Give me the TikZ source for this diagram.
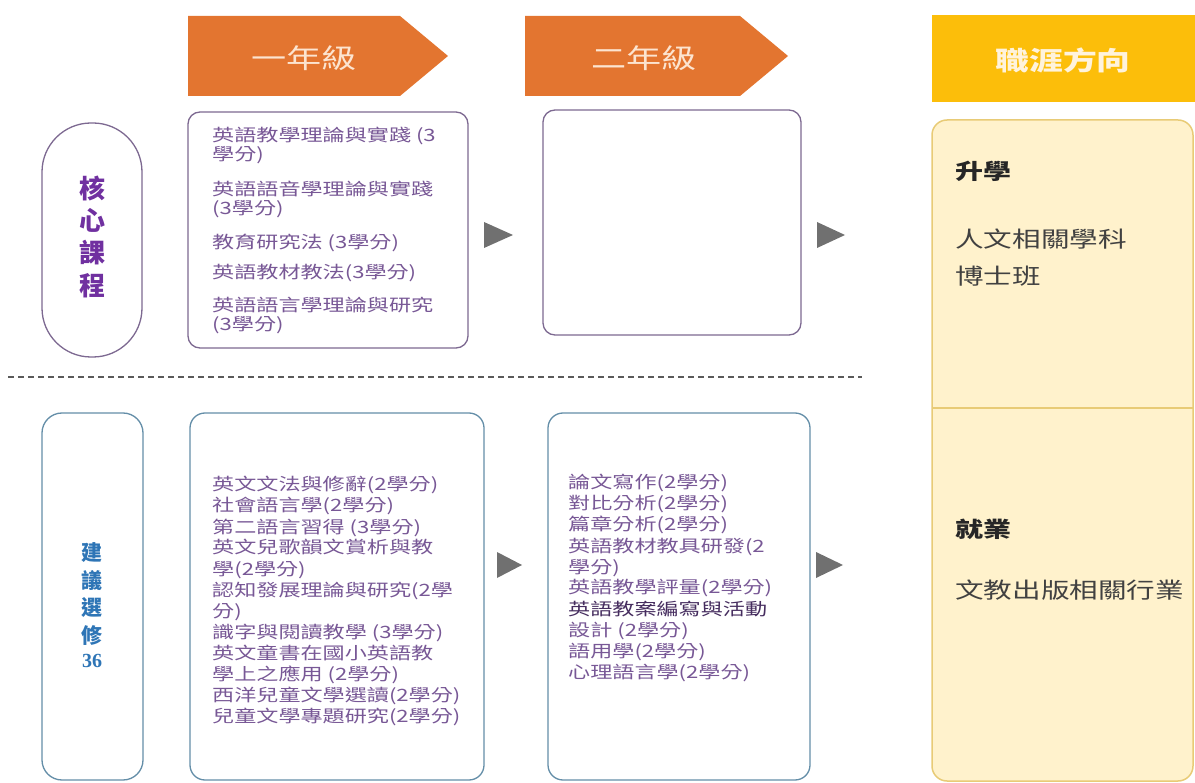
\documentclass[tikz,border=0pt]{standalone}
\usepackage{fontspec}
\newfontfamily\cjk[FakeStretch=1.3]{Noto Sans CJK TC}
\newfontfamily\cjkn{Noto Sans CJK TC}
\newfontfamily\numfont{Liberation Serif}
\definecolor{hdrorange}{RGB}{227,117,48}
\definecolor{hdrtext}{RGB}{252,228,208}
\definecolor{gold}{RGB}{252,190,10}
\definecolor{goldtext}{RGB}{255,243,220}
\definecolor{paleyellow}{RGB}{255,242,204}
\definecolor{paleborder}{RGB}{232,203,118}
\definecolor{corepurple}{RGB}{112,48,160}
\definecolor{coreborder}{RGB}{125,105,145}
\definecolor{itemtext}{RGB}{120,88,150}
\definecolor{itemdark}{RGB}{70,45,95}
\definecolor{elecborder}{RGB}{100,142,168}
\definecolor{elecblue}{RGB}{46,117,182}
\definecolor{arrowgray}{RGB}{112,112,112}
\definecolor{sepgray}{RGB}{90,90,90}
\definecolor{darktext}{RGB}{65,65,65}
\tikzset{
  yearhdr/.style={fill=hdrorange, draw=none},
  hdrlabel/.style={font=\cjk\fontsize{27}{30}\selectfont, text=hdrtext, inner sep=0pt},
  corebox/.style={draw=coreborder, line width=1.3pt, fill=white, rounded corners=12pt},
  elecbox/.style={draw=elecborder, line width=1.3pt, fill=white, rounded corners=15pt},
  itemline/.style={anchor=base west, inner sep=0pt, text=itemtext, font=\cjk\fontsize{17}{19}\selectfont},
  pillchar/.style={inner sep=0pt, font=\cjkn\bfseries\fontsize{26}{28}\selectfont, text=corepurple},
  elecchar/.style={inner sep=0pt, font=\cjkn\bfseries\fontsize{21}{23}\selectfont, text=elecblue},
  flowtri/.style={fill=arrowgray, draw=none},
  careertext/.style={anchor=base west, inner sep=0pt, text=darktext, font=\cjk\fontsize{22}{24}\selectfont},
  careerhead/.style={anchor=base west, inner sep=0pt, text=black!85, font=\cjk\bfseries\fontsize{21.5}{24}\selectfont},
}
\begin{document}
\begin{tikzpicture}[x=1pt,y=-1pt]
\useasboundingbox (0,0) rectangle (1195,783);
% headers
\fill[yearhdr] (188,16) -- (400,16) -- (448,56) -- (400,96) -- (188,96) -- cycle;
\node[hdrlabel] (h1) at (304,58) {一年級};
\fill[yearhdr] (525,16) -- (740,16) -- (788,56) -- (740,96) -- (525,96) -- cycle;
\node[hdrlabel] (h2) at (644,58) {二年級};
\fill[gold] (932,15) rectangle (1195,102);
\node[hdrlabel, text=goldtext, font=\cjk\bfseries\fontsize{26}{28}\selectfont] (h3) at (1063,60) {職涯方向};
% right career box
\draw[fill=paleyellow, draw=paleborder, line width=1.5pt, rounded corners=15pt] (932,120) rectangle (1193,781);
\coordinate (dl) at (932,408);
\coordinate (dr) at (1193,408);
\draw[draw=paleborder, line width=1.5pt] (dl) -- (dr);
\node[careerhead] (c1) at (955,180) {升學};
\node[careertext] (c2) at (955,248) {人文相關學科};
\node[careertext] (c3) at (955,285) {博士班};
\node[careerhead] (c4) at (955,538) {就業};
\node[careertext] (c5) at (955,598) {文教出版相關行業};
% left pills
\draw[draw=coreborder, line width=1.3pt, fill=white, rounded corners=49pt] (42,123) rectangle (142,357);
\node[pillchar] (p1) at (92,188) {核};
\node[pillchar] (p2) at (92,220) {心};
\node[pillchar] (p3) at (92,253) {課};
\node[pillchar] (p4) at (92,286) {程};
\draw[draw=elecborder, line width=1.3pt, fill=white, rounded corners=20pt] (42,413) rectangle (143,780);
\node[elecchar] (q1) at (92,553) {建};
\node[elecchar] (q2) at (92,581) {議};
\node[elecchar] (q3) at (92,608) {選};
\node[elecchar] (q4) at (92,635) {修};
\node[inner sep=0pt, font=\numfont\bfseries\fontsize{20}{22}\selectfont, text=elecblue] (q5) at (92,661) {36};
% core boxes
\draw[corebox] (188,112) rectangle (468,348);
\draw[corebox] (543,110) rectangle (801,335);
\node[itemline] (k1) at (212,142) {英語教學理論與實踐 (3};
\node[itemline] (k2) at (212,161) {學分)};
\node[itemline] (k3) at (212,196) {英語語音學理論與實踐};
\node[itemline] (k4) at (212,215) {(3學分)};
\node[itemline] (k5) at (212,249) {教育研究法 (3學分)};
\node[itemline] (k6) at (212,279) {英語教材教法(3學分)};
\node[itemline] (k7) at (212,312) {英語語言學理論與研究};
\node[itemline] (k8) at (212,331) {(3學分)};
% separator
\coordinate (s1) at (8,377);
\coordinate (s2) at (862,377);
\draw[sepgray, line width=2.2pt, dash pattern=on 6pt off 4pt] (s1) -- (s2);
% elective boxes
\draw[elecbox] (190,413) rectangle (484,780);
\draw[elecbox] (548,413) rectangle (810,780);
\foreach \t [count=\i] in {{英文文法與修辭(2學分)},{社會語言學(2學分)},{第二語言習得 (3學分)},{英文兒歌韻文賞析與教},{學(2學分)},{認知發展理論與研究(2學},{分)},{識字與閱讀教學 (3學分)},{英文童書在國小英語教},{學上之應用 (2學分)},{西洋兒童文學選讀(2學分)},{兒童文學專題研究(2學分)}}
  {\node[itemline] (ea\i) at (212,{491+21*(\i-1)}) {\t};}
\foreach \t [count=\i] in {{論文寫作(2學分)},{對比分析(2學分)},{篇章分析(2學分)},{英語教材教具研發(2},{學分)},{英語教學評量(2學分)},{\textcolor{itemdark}{英語教案編寫與活動}},{設計 (2學分)},{語用學(2學分)},{心理語言學(2學分)}}
  {\node[itemline] (eb\i) at (568,{489+21*(\i-1)}) {\t};}
% flow arrows
\fill[flowtri] (484,222) -- (513,235) -- (484,248) -- cycle;
\fill[flowtri] (817,222) -- (845,235) -- (817,248) -- cycle;
\fill[flowtri] (497,552) -- (522,565) -- (497,578) -- cycle;
\fill[flowtri] (816,552) -- (843,565) -- (816,578) -- cycle;
\end{tikzpicture}
\end{document}
